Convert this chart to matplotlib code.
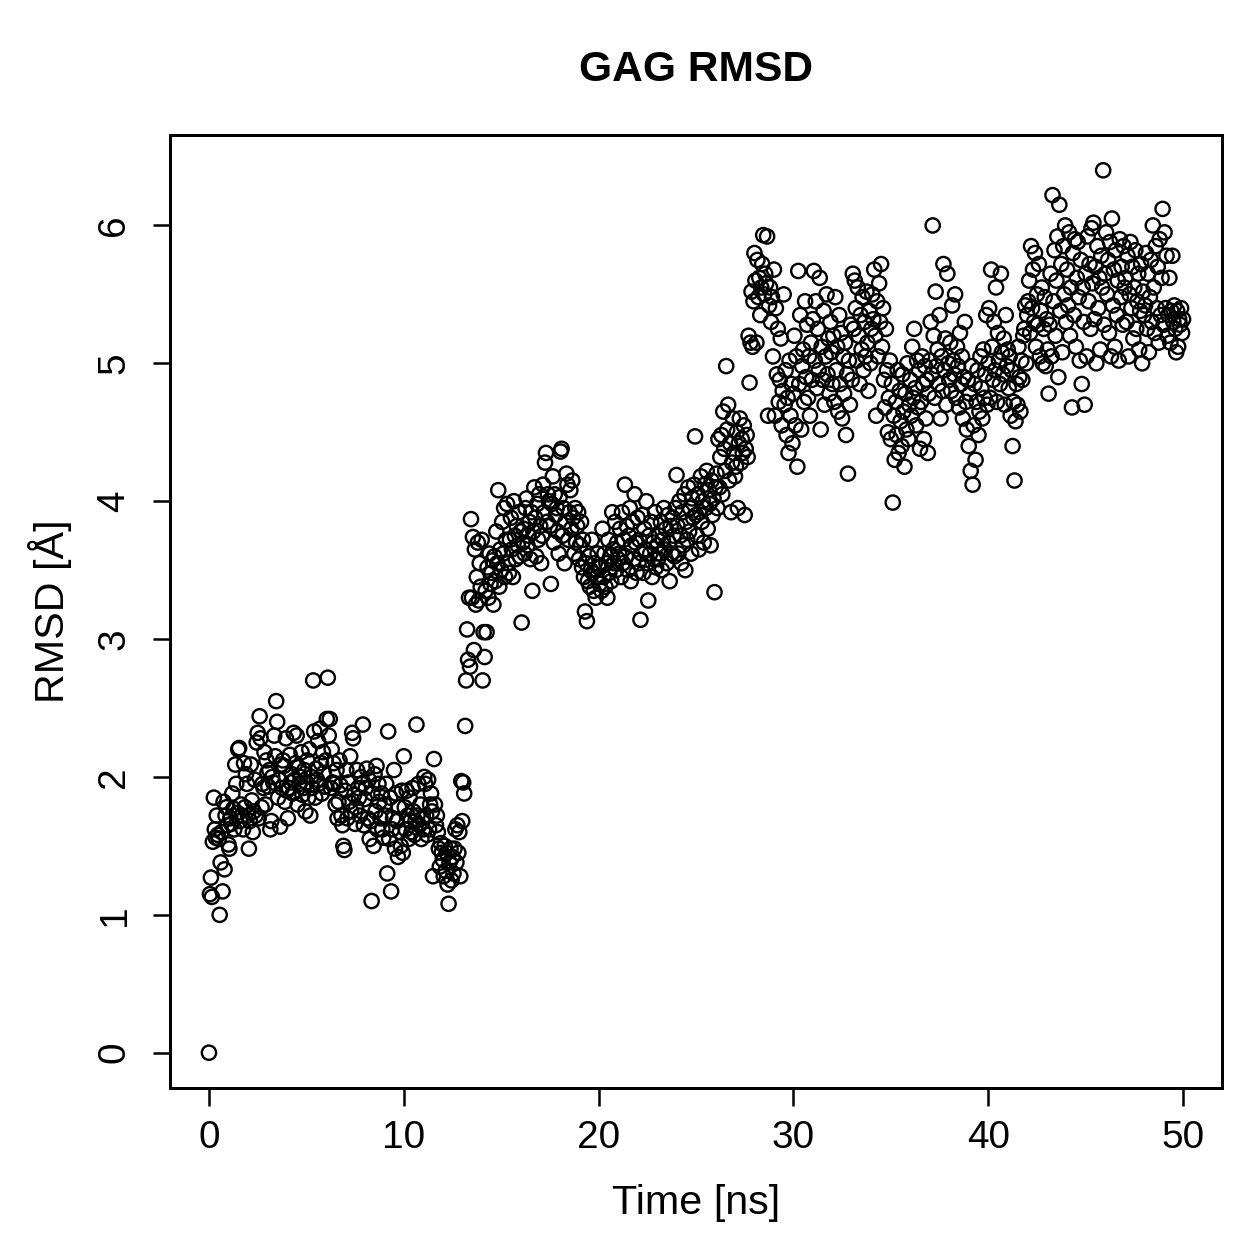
import numpy as np
import matplotlib.pyplot as plt

plt.rcParams['font.family'] = ['Liberation Sans', 'DejaVu Sans']

rmsd_start = [0.00]
rmsd_00_05 = [
    1.15, 1.27, 1.13, 1.53, 1.85, 1.62, 1.56, 1.72, 1.58, 1.55, 1.00, 1.38, 1.60, 1.17, 1.82, 1.33, 1.72, 1.78, 1.65, 1.51,
    1.48, 1.70, 1.66, 1.88, 1.77, 1.62, 2.09, 1.95, 1.74, 2.20, 2.21, 1.68, 1.80, 1.72, 1.62, 2.10, 1.78, 2.02, 1.95, 1.72,
    1.48, 1.68, 2.09, 1.83, 1.60, 1.75, 1.98, 1.72, 2.25, 2.32, 1.70, 2.44, 2.28, 1.78, 1.95, 1.92, 2.18, 1.80, 2.12, 2.03,
    1.93, 2.05, 1.62, 1.68, 2.00, 1.96, 2.30, 2.15, 2.55, 2.40, 1.85, 1.98, 1.64, 2.09, 1.92, 2.12, 2.08, 1.82, 2.28, 1.90,
    1.70, 1.92, 2.16, 1.96, 2.02, 1.88, 2.32, 1.98, 2.10, 2.30, 1.80, 2.07, 1.95, 2.00, 2.18, 1.87, 1.92, 2.05, 1.75, 1.96]
rmsd_05_10 = [
    2.12, 1.85, 2.20, 1.72, 2.00, 1.92, 2.70, 2.33, 1.85, 2.06, 1.98, 2.26, 1.95, 2.35, 2.10, 1.88, 2.18, 2.03, 1.93, 2.12,
    2.42, 2.72, 2.30, 2.42, 1.92, 2.20, 1.96, 2.10, 1.95, 1.80, 2.05, 1.70, 1.82, 2.12, 1.94, 1.72, 1.65, 1.50, 1.47, 1.90,
    2.05, 1.70, 1.96, 1.82, 2.15, 1.75, 2.32, 2.28, 1.87, 1.66, 1.78, 2.05, 1.92, 1.85, 1.72, 2.00, 1.95, 2.38, 1.65, 1.84,
    1.92, 2.06, 1.70, 1.98, 1.55, 1.68, 1.10, 1.88, 1.50, 2.02, 1.75, 2.08, 1.62, 1.95, 1.82, 1.70, 1.88, 1.62, 1.56, 1.80,
    1.72, 1.95, 1.30, 2.33, 1.55, 1.85, 1.17, 1.62, 1.70, 2.05, 1.48, 1.88, 1.68, 1.42, 1.78, 1.60, 1.50, 1.90, 1.45, 2.15]
rmsd_10_15 = [
    1.78, 1.62, 1.90, 1.72, 1.55, 1.85, 1.68, 1.60, 1.92, 1.75, 1.58, 1.68, 2.38, 1.72, 1.95, 1.65, 1.80, 1.55, 1.70, 1.62,
    2.00, 1.95, 1.72, 1.58, 1.98, 1.62, 1.80, 1.88, 1.75, 1.28, 2.13, 1.80, 1.65, 1.72, 1.60, 1.48, 1.35, 1.52, 1.45, 1.40,
    1.28, 1.50, 1.32, 1.45, 1.22, 1.08, 1.38, 1.48, 1.25, 1.42, 1.30, 1.48, 1.62, 1.38, 1.65, 1.45, 1.60, 1.28, 1.97, 1.68,
    1.96, 1.88, 2.37, 2.70, 3.07, 2.85, 3.30, 2.80, 3.87, 3.30, 3.74, 2.92, 3.65, 3.25, 3.45, 3.70, 3.28, 3.55, 3.38, 3.72,
    2.70, 3.05, 2.87, 3.35, 3.05, 3.52, 3.30, 3.62, 3.40, 3.48, 3.57, 3.25, 3.60, 3.42, 3.78, 3.55, 4.08, 3.38, 3.65, 3.50]
rmsd_15_20 = [
    3.85, 3.62, 3.95, 3.45, 3.72, 3.98, 3.55, 3.48, 3.72, 3.88, 3.65, 3.45, 4.00, 3.75, 3.58, 3.82, 3.68, 3.92, 3.60, 3.78,
    3.12, 3.70, 3.80, 3.62, 3.95, 4.02, 3.68, 3.75, 3.85, 3.58, 3.92, 3.35, 3.78, 4.10, 3.88, 3.60, 3.98, 3.72, 4.05, 3.82,
    3.55, 3.75, 4.12, 3.92, 4.28, 4.35, 3.85, 4.05, 4.00, 3.82, 3.40, 3.98, 4.18, 3.70, 4.05, 3.90, 3.95, 3.78, 3.62, 4.03,
    4.36, 4.38, 3.75, 3.95, 3.55, 3.85, 4.20, 4.12, 3.72, 3.92, 4.08, 3.80, 4.15, 3.88, 3.62, 3.95, 3.70, 3.82, 3.92, 3.58,
    3.68, 3.85, 3.52, 3.72, 3.45, 3.20, 3.55, 3.13, 3.42, 3.60, 3.38, 3.50, 3.72, 3.48, 3.35, 3.55, 3.30, 3.45, 3.62, 3.52]
rmsd_20_25 = [
    3.40, 3.52, 3.35, 3.80, 3.45, 3.62, 3.38, 3.55, 3.30, 3.72, 3.48, 3.60, 3.42, 3.92, 3.65, 3.55, 3.85, 3.50, 3.70, 3.58,
    3.62, 3.80, 3.45, 3.92, 3.55, 3.72, 4.12, 3.60, 3.82, 3.50, 3.75, 3.95, 3.42, 3.68, 3.85, 3.58, 4.05, 3.70, 3.48, 3.88,
    3.55, 3.72, 3.14, 3.62, 3.90, 3.48, 3.80, 3.65, 4.00, 3.55, 3.28, 3.75, 3.62, 3.85, 3.45, 3.70, 3.58, 3.92, 3.52, 3.68,
    3.58, 3.75, 3.62, 3.85, 3.50, 3.72, 3.95, 3.65, 3.80, 3.55, 3.90, 3.70, 3.42, 3.82, 3.62, 3.88, 3.75, 3.60, 3.95, 4.19,
    3.82, 3.62, 4.00, 3.75, 3.55, 3.92, 3.68, 4.05, 3.50, 3.85, 3.72, 4.10, 3.78, 3.95, 3.62, 4.02, 3.88, 4.12, 4.47, 3.90]
rmsd_25_30 = [
    3.75, 4.05, 3.65, 3.92, 4.18, 3.85, 4.00, 3.70, 4.12, 3.95, 4.22, 3.80, 4.08, 3.98, 3.68, 4.15, 3.90, 4.02, 3.34, 4.10,
    4.20, 3.95, 4.45, 4.10, 4.32, 4.48, 4.05, 4.65, 4.38, 4.22, 4.98, 4.52, 4.70, 4.15, 4.42, 3.92, 4.28, 4.60, 4.35, 4.18,
    4.25, 4.50, 3.95, 4.42, 4.60, 4.28, 4.45, 4.35, 4.55, 3.90, 4.38, 4.48, 4.32, 5.20, 4.86, 5.15, 5.52, 5.12, 5.45, 5.80,
    5.60, 5.15, 5.75, 5.48, 5.62, 5.35, 5.55, 5.72, 5.93, 5.50, 5.65, 5.58, 5.92, 4.62, 5.42, 5.55, 5.30, 5.48, 5.05, 5.68,
    4.62, 5.40, 4.92, 5.25, 4.72, 4.88, 5.18, 4.55, 4.80, 5.50, 4.70, 4.95, 4.48, 4.75, 4.35, 5.02, 4.62, 4.85, 4.42, 4.78]
rmsd_30_35 = [
    5.20, 4.55, 5.05, 4.25, 5.67, 4.85, 5.35, 4.52, 4.98, 5.10, 4.72, 5.45, 4.90, 5.28, 4.75, 5.05, 4.62, 5.15, 4.88, 5.32,
    5.67, 5.02, 5.45, 4.82, 5.25, 4.95, 5.62, 4.52, 5.12, 4.88, 5.38, 4.70, 5.05, 5.50, 4.92, 5.18, 4.78, 5.30, 5.08, 4.85,
    5.20, 4.72, 5.48, 4.95, 5.12, 4.65, 5.35, 4.85, 5.22, 4.60, 5.05, 4.78, 5.15, 4.48, 4.92, 4.20, 5.02, 4.70, 5.28, 4.88,
    5.65, 5.25, 5.60, 5.40, 5.02, 5.55, 5.20, 4.85, 5.35, 5.10, 5.48, 4.95, 5.30, 5.05, 5.52, 5.15, 4.80, 5.38, 5.00, 5.25,
    5.50, 5.32, 5.68, 5.20, 4.62, 5.45, 5.05, 5.58, 5.30, 5.72, 5.12, 5.40, 4.88, 4.68, 5.25, 4.95, 4.50, 4.75, 5.02, 4.45]
rmsd_35_40 = [
    4.85, 3.99, 4.62, 4.30, 4.72, 4.48, 4.95, 4.35, 4.80, 4.58, 4.40, 4.92, 4.65, 4.25, 4.78, 4.52, 5.00, 4.45, 4.70, 4.88,
    4.62, 5.12, 4.75, 5.25, 4.82, 4.55, 5.02, 4.68, 4.95, 4.38, 4.72, 5.05, 4.85, 4.45, 4.98, 4.60, 4.88, 4.35, 4.78, 5.02,
    5.30, 4.92, 6.00, 5.20, 4.75, 5.52, 4.98, 5.10, 4.85, 5.35, 4.60, 5.05, 4.80, 5.72, 4.95, 5.18, 4.70, 5.65, 5.00, 4.88,
    5.15, 4.80, 5.42, 5.02, 4.92, 5.50, 4.75, 5.12, 4.98, 4.68, 5.22, 4.85, 5.05, 4.60, 4.90, 5.30, 4.72, 4.52, 4.88, 4.40,
    4.78, 4.22, 4.98, 4.12, 4.55, 4.85, 4.30, 4.72, 4.95, 4.48, 4.65, 5.05, 4.82, 4.60, 5.10, 4.75, 4.92, 5.35, 4.70, 5.00]
rmsd_40_45 = [
    5.40, 4.75, 5.68, 5.12, 4.88, 5.30, 4.95, 5.55, 4.72, 5.22, 5.02, 4.85, 5.65, 5.08, 4.92, 5.18, 4.70, 5.35, 4.98, 5.10,
    4.82, 5.05, 4.62, 4.95, 4.40, 4.72, 4.15, 4.58, 4.85, 4.70, 5.12, 4.90, 4.65, 5.02, 4.88, 5.20, 5.25, 5.42, 5.00, 5.35,
    5.45, 5.60, 5.22, 5.85, 5.40, 5.68, 5.30, 5.80, 5.12, 5.50, 5.28, 5.72, 5.05, 5.38, 5.55, 5.00, 5.25, 5.48, 4.98, 5.32,
    5.10, 4.78, 5.28, 5.65, 5.05, 6.22, 5.45, 5.82, 5.20, 5.60, 5.92, 4.90, 6.15, 5.38, 5.72, 5.08, 5.85, 5.50, 6.00, 5.30,
    5.68, 5.42, 5.95, 5.20, 5.55, 4.68, 5.80, 5.35, 5.90, 5.12, 5.62, 5.88, 5.48, 5.02, 5.75, 4.85, 5.55, 5.30, 4.70, 5.65]
rmsd_45_50 = [
    5.05, 5.92, 5.45, 5.72, 5.25, 5.98, 5.58, 6.02, 5.32, 5.70, 5.00, 5.85, 5.40, 5.62, 5.10, 5.78, 5.55, 6.40, 5.28, 5.65,
    5.95, 5.50, 5.75, 5.22, 5.88, 5.05, 6.05, 5.42, 5.68, 5.12, 5.82, 5.35, 5.60, 5.02, 5.90, 5.48, 5.70, 5.28, 5.85, 5.55,
    5.62, 5.30, 5.78, 5.05, 5.50, 5.88, 5.40, 5.70, 5.18, 5.55, 5.82, 5.25, 5.45, 5.65, 5.10, 5.38, 5.72, 5.00, 5.52, 5.35,
    5.42, 5.80, 5.25, 5.65, 5.08, 5.48, 5.75, 5.30, 6.00, 5.55, 5.22, 5.85, 5.40, 5.70, 5.15, 5.90, 5.35, 5.62, 6.12, 5.28,
    5.95, 5.40, 5.78, 5.20, 5.35, 5.62, 5.15, 5.38, 5.78, 5.30, 5.42, 5.25, 5.08, 5.38, 5.12, 5.32, 5.28, 5.40, 5.22, 5.32]

rmsd = np.array(rmsd_start + rmsd_00_05 + rmsd_05_10 + rmsd_10_15 + rmsd_15_20 + rmsd_20_25
                + rmsd_25_30 + rmsd_30_35 + rmsd_35_40 + rmsd_40_45 + rmsd_45_50)
time_ns = np.arange(len(rmsd)) * 0.05

x_ticks = [0, 10, 20, 30, 40, 50]
y_ticks = [0, 1, 2, 3, 4, 5, 6]

W = 1259
fig = plt.figure(figsize=(W / 180, W / 180), dpi=180)
ax = fig.add_axes([170 / W, 1 - 1088 / W, (1222 - 170) / W, (1088 - 135) / W])

ax.scatter(time_ns, rmsd, s=5.7 ** 2, facecolors='none', edgecolors='black', linewidths=0.95)

ax.set_xlim(-2, 52)
ax.set_ylim(-0.256, 6.656)
ax.set_xticks(x_ticks)
ax.set_yticks(y_ticks)
ax.tick_params(axis='both', direction='out', length=7, width=1.0, labelsize=15.5)
ax.tick_params(axis='x', pad=6)
ax.tick_params(axis='y', pad=8)
for lab in ax.get_yticklabels():
    lab.set_rotation(90)
    lab.set_va('center')
for sp in ax.spines.values():
    sp.set_linewidth(1.2)

fig.text(696 / W, 1 - 70 / W, 'GAG RMSD', ha='center', va='center', fontsize=17, fontweight='bold')
fig.text(696 / W, 1 - 1203 / W, 'Time [ns]', ha='center', va='center', fontsize=16.5)
fig.text(50 / W, 1 - 611 / W, 'RMSD [Å]', ha='center', va='center', rotation=90, fontsize=16.5)

fig.savefig('out.png', dpi=180)
